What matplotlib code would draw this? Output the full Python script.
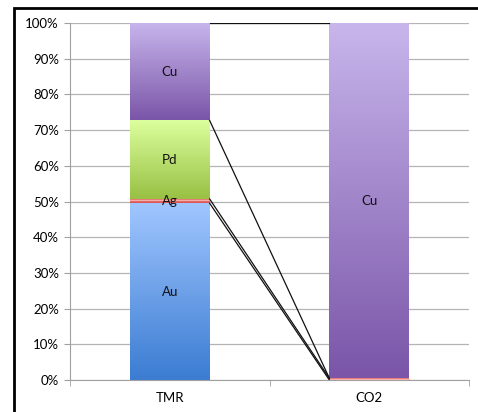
import numpy as np
import matplotlib
matplotlib.use("Agg")
from matplotlib import pyplot as plt
from matplotlib.colors import LinearSegmentedColormap
from matplotlib.patches import Rectangle

plt.rcParams['font.family'] = ['Lato', 'DejaVu Sans']

categories = ["TMR", "CO2"]
series = ["Au", "Ag", "Pd", "Cu"]
au = [49.5, 0.0]
ag = [1.2, 0.5]
pd_ = [22.0, 0.0]
cu = [27.3, 99.5]
values = [au, ag, pd_, cu]

# top / bottom colours of the gradients
grad = {
    "Au": ("#a0c6ff", "#3b7cd2"),
    "Ag": ("#f08a86", "#d9534f"),
    "Pd": ("#dcff9e", "#98c043"),
    "Cu": ("#c8b6ec", "#7a55a8"),
}

fig = plt.figure(figsize=(4.78, 4.12), dpi=100)
ax = fig.add_axes([70 / 478, 1 - 380 / 412, 399 / 478, 357 / 412])

width = 0.4
x = np.arange(len(categories))
bottoms = np.zeros(len(categories))
tops = {}
for name, vals in zip(series, values):
    vals = np.array(vals)
    for i in range(len(categories)):
        if vals[i] <= 0:
            continue
        y0, y1 = bottoms[i], bottoms[i] + vals[i]
        top_c, bot_c = grad[name]
        cmap = LinearSegmentedColormap.from_list(name, [bot_c, top_c])
        g = np.linspace(0, 1, 256).reshape(-1, 1)
        ax.imshow(g, cmap=cmap, origin="lower", aspect="auto",
                  extent=(x[i] - width / 2, x[i] + width / 2, y0, y1), zorder=2)
        if name == "Ag":
            ax.plot([x[i] - width / 2, x[i] + width / 2], [y1 - 0.35, y1 - 0.35],
                    color="#f6b0ac", lw=0.8, zorder=3)
        if vals[i] > 2 or (name == "Ag" and i == 0):
            ax.text(x[i], (y0 + y1) / 2, name, ha="center", va="center",
                    fontsize=9.5, color="#111111", zorder=4)
    bottoms = bottoms + vals
    tops[name] = bottoms.copy()

# series lines
for name in series:
    ax.plot([x[0] + width / 2, x[1] - width / 2], [tops[name][0], tops[name][1]],
            color="#111111", lw=0.9, zorder=3)

ax.set_xlim(-0.5, 1.5)
ax.set_ylim(0, 100)
ax.set_yticks(np.arange(0, 101, 10))
ax.set_yticklabels(["%d%%" % v for v in range(0, 101, 10)], fontsize=9.5)
ax.set_xticks(x)
ax.set_xticklabels(categories, fontsize=9.5)
ax.set_xticks([-0.5, 0.5, 1.5], minor=True)
ax.tick_params(axis="x", which="major", length=0, pad=9)
ax.tick_params(axis="x", which="minor", length=4, color="#a0a0a0")
ax.tick_params(axis="y", length=4, color="#a0a0a0", pad=4)
ax.grid(axis="y", color="#b4b4b4", lw=0.9, zorder=0)
ax.set_axisbelow(True)
for s in ["top", "right"]:
    ax.spines[s].set_visible(False)
ax.spines["left"].set_color("#a0a0a0")
ax.spines["bottom"].set_color("#a0a0a0")

# outer frame of the chart
fig.patches.append(Rectangle((14 / 478, -0.02), 1.0, 1 - 8 / 412 + 0.02,
                             transform=fig.transFigure, fill=False,
                             edgecolor="black", lw=2))

fig.savefig("out.png", dpi=100)
